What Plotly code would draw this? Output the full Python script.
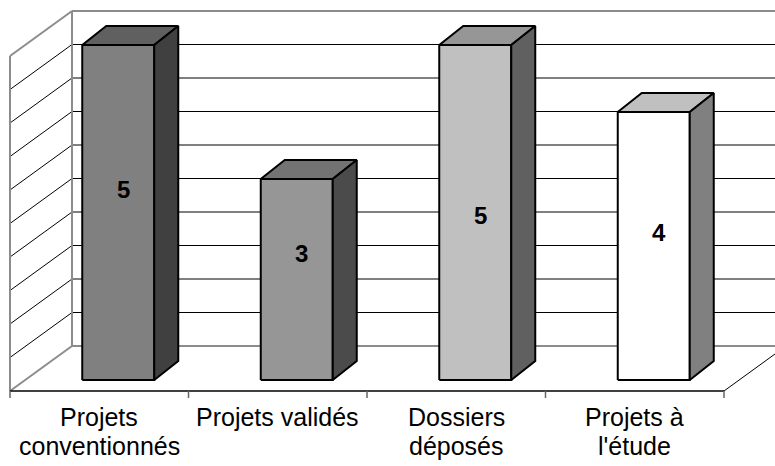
import plotly.graph_objects as go

# Chart data
categories = ["Projets\nconventionnés", "Projets validés", "Dossiers\ndéposés", "Projets à\nl'étude"]
values = [5, 3, 5, 4]
value_max = 5
grid_step = 0.5

# Face shading for each column (front, top, right side)
front_colors = ["#808080", "#969696", "#c0c0c0", "#ffffff"]
top_colors = ["#606060", "#737373", "#969696", "#c0c0c0"]
side_colors = ["#404040", "#4b4b4b", "#606060", "#808080"]

# Vertical placement of the value labels, as a share of each column's height
label_share = [0.57, 0.63, 0.49, 0.55]

# ---- oblique projection settings (axis units: one category = 1, one value = 1) ----
PX_CAT = 178.5          # pixels per category
PX_VAL = 67.0           # pixels per value unit
W, H = 775, 466
X0_PX, Y0_PX = 10, 391  # front-left floor corner in pixels

WALL_DX, WALL_DY = 62 / PX_CAT, 45 / PX_VAL        # full depth of the box
BAR_FX, BAR_FY = 19 / PX_CAT, 11 / PX_VAL          # column front plane offset
BAR_BX, BAR_BY = 43 / PX_CAT, 30 / PX_VAL          # column back plane offset
BAR_HALF = 36 / PX_CAT                             # half column width
LINE_GAP = 29 / PX_VAL                             # spacing between label lines

x_lo = -0.5 - X0_PX / PX_CAT
x_hi = x_lo + W / PX_CAT
y_lo = -(H - Y0_PX) / PX_VAL
y_hi = Y0_PX / PX_VAL

n = len(categories)
left = -0.5
right = n - 0.5

WALL_GRAY = "#8c8c8c"
FONT = "Liberation Sans, Arial, sans-serif"
fig = go.Figure()


def seg(xs, ys, color, width):
    fig.add_trace(go.Scatter(x=xs, y=ys, mode="lines",
                             line=dict(color=color, width=width),
                             hoverinfo="skip", showlegend=False))


def face(xs, ys, fill):
    fig.add_trace(go.Scatter(x=xs + [xs[0]], y=ys + [ys[0]], mode="lines",
                             fill="toself", fillcolor=fill,
                             line=dict(color="#000000", width=2),
                             hoverinfo="skip", showlegend=False))


# Gridlines on the back wall and side wall
k = 1
while k * grid_step < value_max - 1e-9:
    v = k * grid_step
    seg([left + WALL_DX, right + WALL_DX + 1], [v + WALL_DY, v + WALL_DY], "#000000", 1)
    seg([left, left + WALL_DX], [v, v + WALL_DY], "#000000", 1)
    k += 1

# Wall and floor borders
seg([left, left], [0, value_max], WALL_GRAY, 2)
seg([left, left + WALL_DX], [value_max, value_max + WALL_DY], WALL_GRAY, 2)
seg([left + WALL_DX, left + WALL_DX], [WALL_DY, value_max + WALL_DY], WALL_GRAY, 2)
seg([left + WALL_DX, right + WALL_DX + 1], [value_max + WALL_DY] * 2, WALL_GRAY, 2)
seg([left, left + WALL_DX], [0, WALL_DY], WALL_GRAY, 2)
seg([left + WALL_DX, right + WALL_DX + 1], [WALL_DY] * 2, WALL_GRAY, 2)

# Floor front edge, right edge and category ticks
seg([left, right], [0, 0], "#000000", 1.5)
seg([right, right + WALL_DX], [0, WALL_DY], "#000000", 1)
for i in range(n + 1):
    t = left + i
    seg([t, t], [0, -7 / PX_VAL], "#666666", 1.5)

# Columns
for i, v in enumerate(values):
    x0 = i - BAR_HALF + BAR_FX
    x1 = i + BAR_HALF + BAR_FX
    ddx = BAR_BX - BAR_FX
    face([x0, x1, x1, x0], [BAR_FY, BAR_FY, v + BAR_FY, v + BAR_FY], front_colors[i])
    face([x0, x1, x1 + ddx, x0 + ddx], [v + BAR_FY, v + BAR_FY, v + BAR_BY, v + BAR_BY], top_colors[i])
    face([x1, x1, x1 + ddx, x1 + ddx], [BAR_FY, v + BAR_FY, v + BAR_BY, BAR_BY], side_colors[i])

annotations = []
for i, v in enumerate(values):
    annotations.append(dict(
        x=i + BAR_FX + 5 / PX_CAT, y=BAR_FY + v * label_share[i],
        text=f"<b>{v}</b>", showarrow=False, xanchor="center", yanchor="middle",
        font=dict(family=FONT, size=24, color="#000000")))
    for j, line in enumerate(categories[i].split("\n")):
        annotations.append(dict(
            x=i, y=-26 / PX_VAL - j * LINE_GAP, text=line, showarrow=False,
            xanchor="center", yanchor="middle",
            font=dict(family=FONT, size=25, color="#000000")))

fig.update_layout(
    width=W, height=H,
    margin=dict(l=0, r=0, t=0, b=0),
    paper_bgcolor="#ffffff", plot_bgcolor="#ffffff",
    showlegend=False, hovermode=False,
    xaxis=dict(range=[x_lo, x_hi], visible=False, fixedrange=True),
    yaxis=dict(range=[y_lo, y_hi], visible=False, fixedrange=True),
    annotations=annotations,
)

fig.write_html("out.html", config={"displayModeBar": False})
